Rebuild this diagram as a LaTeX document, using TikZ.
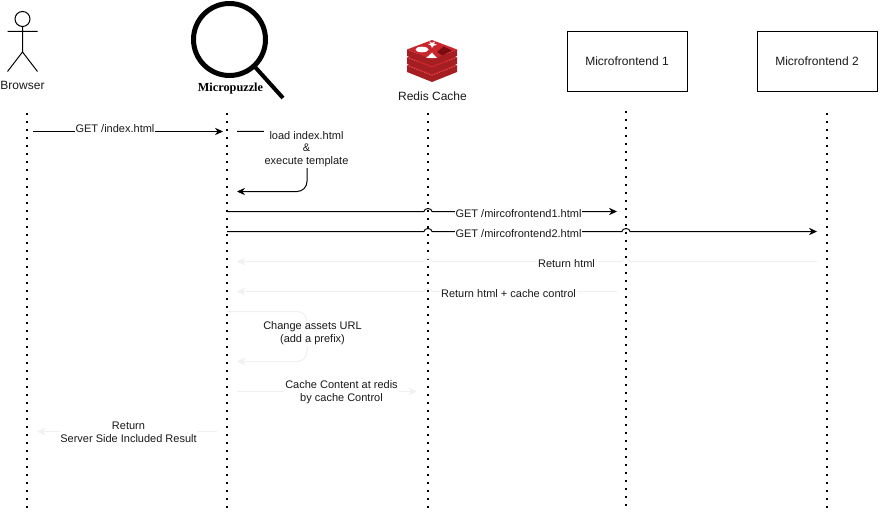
\documentclass[tikz,border=0pt]{standalone}
\usepackage{fontspec}
\setmainfont{Liberation Sans}
\newfontfamily\serifb{Liberation Serif}[BoldFont={Liberation Serif Bold}]
\usetikzlibrary{arrows.meta}
\definecolor{faint}{HTML}{F0F0F0}
\definecolor{rA}{HTML}{C9252C}
\definecolor{rB}{HTML}{A41E22}
\definecolor{rD}{HTML}{7A0C10}
\tikzset{
  x=0.75pt,y=-0.75pt,
  life/.style={line width=1.5pt,dash pattern=on 1.5pt off 4.5pt},
  msg/.style={line width=0.75pt,-{Stealth[length=6pt,width=5.5pt]}},
  fmsg/.style={line width=0.75pt,draw=faint,-{Stealth[length=6.5pt,width=6pt]}},
  lbl/.style={font=\fontsize{8.25}{9.6}\selectfont,fill=white,inner sep=0.6pt,align=center,text=black!90},
  txt/.style={font=\fontsize{9}{10.5}\selectfont,inner sep=0pt,align=center,text=black!90},
  fbox/.style={draw=black,line width=0.75pt,minimum width=90pt,minimum height=45pt,inner sep=0pt,font=\fontsize{9}{10.5}\selectfont,text=black!90},
}
\begin{document}
\begin{tikzpicture}
\useasboundingbox (0,-0.5) rectangle (880,512.5);
% lifeline ends
\foreach \n/\x/\a/\b in {b/27/113/510,m/227/113/510,r/428/113/510,f/626/111/505,g/827/113/510}{
  \coordinate (\n top) at (\x,\a);
  \coordinate (\n bot) at (\x,\b);
  \draw[life] (\n top) -- (\n bot);
}
% Actor
\node[draw,circle,line width=0.75pt,minimum size=11.25pt,inner sep=0pt] (head) at (22.5,18.5) {};
\coordinate (neck) at (22.5,51.5);
\coordinate (armL) at (7.5,31);
\coordinate (armR) at (37.5,31);
\coordinate (legL) at (7.5,71);
\coordinate (legR) at (37.5,71);
\draw[line width=0.75pt] (head.south) -- (neck) (armL) -- (armR) (legL) -- (neck) -- (legR);
\node[txt] (browser) at (22.5,84.5) {Browser};
% Magnifier
\node[draw,circle,line width=3.75pt,minimum size=54pt,inner sep=0pt] (glass) at (229.5,39) {};
\coordinate (hStart) at (255.5,67);
\coordinate (hEnd) at (283,97.5);
\draw[line width=3pt] (hStart) -- (hEnd);
\node[font=\serifb\bfseries\fontsize{9.2}{10.5}\selectfont,inner sep=0pt] (mp) at (230.5,88.5) {Micropuzzle};
% Redis icon
\begin{scope}[shift={(432,-0.5)}]
  \foreach \d in {16,8,0}{
    \fill[rB] (-25,49.5+\d) -- (0,59.5+\d) -- (25,49.5+\d) -- (25,56+\d) -- (0,66+\d) -- (-25,56+\d) -- cycle;
    \fill[rA] (-25,49.5+\d) -- (0,40+\d) -- (25,49.5+\d) -- (0,59.5+\d) -- cycle;
  }
  \fill[white] (-10,49.5) ellipse (6.5 and 2.8);
  \fill[white] (-6,58) -- (5,58) -- (0,52.7) -- cycle;
  \fill[white] (-4.5,43.8) -- (-1.2,43.8) -- (-3,41.5) -- (0,42.8) -- (3,41.5) -- (2,43.8) -- (5,44.8) -- (2,45.5) -- (0,47.8) -- (-1.2,45.5) -- cycle;
  \fill[rD] (5,52) -- (11.7,46.5) -- (20,50.5) -- (10,55.5) -- cycle;
\end{scope}
\node[txt] (redis) at (432.5,95.5) {Redis Cache};
% Boxes
\node[fbox] (mf1) at (627,61) {Microfrontend 1};
\node[fbox] (mf2) at (817,61) {Microfrontend 2};
% GET index
\coordinate (a1) at (33,131); \coordinate (a2) at (223,131);
\draw[msg] (a1) -- (a2);
\node[lbl] (l1) at (115,128) {GET /index.html};
% self 1
\coordinate (s1) at (237,131); \coordinate (s2) at (307,131); \coordinate (s3) at (307,191); \coordinate (s4) at (237,191);
\draw[msg,rounded corners=7.5pt] (s1) -- (s2) -- (s3) -- (s4);
\node[lbl] (l2) at (306.5,148.5) {load index.html\\\&\\execute template};
% GET mf1
\coordinate (c1) at (227,211); \coordinate (c2) at (617,211);
\draw[msg] (c1) -- (424,211) arc[start angle=180,end angle=360,x radius=4,y radius=3] -- (c2);
\node[lbl] (l3) at (518.5,213) {GET /mircofrontend1.html};
% GET mf2
\coordinate (d1) at (227,231); \coordinate (d2) at (817,231);
\draw[msg] (d1) -- (424,231) arc[start angle=180,end angle=360,x radius=4,y radius=3] -- (622,231) arc[start angle=180,end angle=360,x radius=4,y radius=3] -- (d2);
\node[lbl] (l4) at (518.5,233) {GET /mircofrontend2.html};
% faint returns
\coordinate (e1) at (817,261); \coordinate (e2) at (237,261);
\draw[fmsg] (e1) -- (630,261) arc[start angle=0,end angle=-180,x radius=4,y radius=3] -- (432,261) arc[start angle=0,end angle=-180,x radius=4,y radius=3] -- (e2);
\node[lbl] (l5) at (566.5,263.5) {Return html};
\coordinate (f1) at (617,291); \coordinate (f2) at (237,291);
\draw[fmsg] (f1) -- (432,291) arc[start angle=0,end angle=-180,x radius=4,y radius=3] -- (f2);
\node[lbl] (l6) at (508.5,293.5) {Return html + cache control};
\coordinate (g1) at (227,311); \coordinate (g2) at (307,311); \coordinate (g3) at (307,361); \coordinate (g4) at (237,361);
\draw[fmsg,rounded corners=7.5pt] (g1) -- (g2) -- (g3) -- (g4);
\node[lbl] (l7) at (312.5,333) {Change assets URL\\(add a prefix)};
\coordinate (h1) at (237,391); \coordinate (h2) at (417,391);
\draw[fmsg] (h1) -- (h2);
\node[lbl] (l8) at (341.5,392) {Cache Content at redis\\by cache Control};
\coordinate (i1) at (217,431); \coordinate (i2) at (37,431);
\draw[fmsg] (i1) -- (i2);
\node[lbl] (l9) at (128.5,432) {Return\\Server Side Included Result};
\end{tikzpicture}
\end{document}
